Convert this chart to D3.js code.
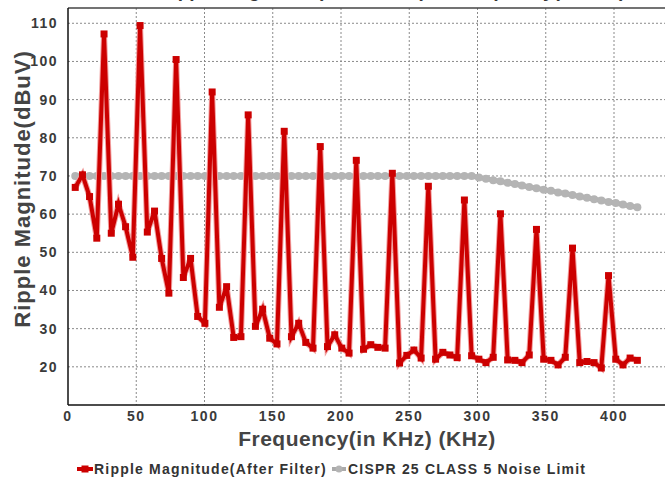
<!DOCTYPE html>
<html>
<head>
<meta charset="utf-8">
<script src="https://cdn.jsdelivr.net/npm/d3@7/dist/d3.min.js"></script>
<style>
  body { margin: 0; background: #fff; }
  svg { display: block; font-family: "Liberation Sans", Arial, sans-serif; }
</style>
</head>
<body>
<div id="chart"></div>
<script>
// frequency of each sample, kHz
const freqs = [
  5.3, 10.6, 15.8, 21.1, 26.4, 31.7, 37.0, 42.2, 47.5, 52.8,
  58.1, 63.4, 68.6, 73.9, 79.2, 84.5, 89.8, 95.0, 100.3, 105.6,
  110.9, 116.2, 121.4, 126.7, 132.0, 137.3, 142.6, 147.8, 153.1, 158.4,
  163.7, 169.0, 174.2, 179.5, 184.8, 190.1, 195.4, 200.6, 205.9, 211.2,
  216.5, 221.8, 227.0, 232.3, 237.6, 242.9, 248.2, 253.4, 258.7, 264.0,
  269.3, 274.6, 279.8, 285.1, 290.4, 295.7, 301.0, 306.2, 311.5, 316.8,
  322.1, 327.4, 332.6, 337.9, 343.2, 348.5, 353.8, 359.0, 364.3, 369.6,
  374.9, 380.2, 385.4, 390.7, 396.0, 401.3, 406.6, 411.8, 417.1
];

// Ripple Magnitude(After Filter), dBuV
const ripple = [
  67.0, 70.3, 64.6, 53.7, 107.2, 55.0, 62.6, 56.7, 48.7, 109.4,
  55.3, 60.8, 48.4, 39.3, 100.5, 43.4, 48.4, 33.2, 31.4, 92.0,
  35.6, 41.0, 27.7, 27.9, 86.0, 30.6, 35.1, 27.5, 26.0, 81.7,
  27.9, 31.4, 26.4, 24.9, 77.7, 25.3, 28.4, 24.9, 23.6, 74.1,
  24.6, 25.8, 25.1, 24.9, 70.7, 21.0, 23.0, 24.4, 22.3, 67.3,
  22.0, 23.8, 23.1, 22.4, 63.7, 22.9, 22.0, 21.1, 22.5, 60.1,
  21.8, 21.7, 21.1, 23.1, 56.0, 22.0, 21.7, 20.5, 22.5, 51.1,
  21.1, 21.4, 21.1, 19.7, 43.9, 22.0, 20.5, 22.3, 21.7
];

// CISPR 25 CLASS 5 Noise Limit, dBuV
const limit = [
  70, 70, 70, 70, 70, 70, 70, 70, 70, 70,
  70, 70, 70, 70, 70, 70, 70, 70, 70, 70,
  70, 70, 70, 70, 70, 70, 70, 70, 70, 70,
  70, 70, 70, 70, 70, 70, 70, 70, 70, 70,
  70, 70, 70, 70, 70, 70, 70, 70, 70, 70,
  70, 70, 70, 70, 70, 70, 69.6, 69.3, 68.9, 68.6,
  68.2, 67.9, 67.5, 67.1, 66.8, 66.4, 66.1, 65.7, 65.4, 65.0,
  64.6, 64.3, 63.9, 63.6, 63.2, 62.9, 62.5, 62.1, 61.8
];

const xTicks = [0, 50, 100, 150, 200, 250, 300, 350, 400];
const yTicks = [20, 30, 40, 50, 60, 70, 80, 90, 100, 110];
const seriesNames = ["Ripple Magnitude(After Filter)", "CISPR 25 CLASS 5 Noise Limit"];

const width = 665, height = 480;
const plotLeft = 68, plotTop = 8, plotBottom = 405;

const x = d3.scaleLinear().domain([0, 400]).range([plotLeft, 614]);
const y = d3.scaleLinear().domain([10, 114]).range([plotBottom, plotTop]);

const svg = d3.select("#chart").append("svg")
  .attr("width", width).attr("height", height);

// title, cut off above the frame as in the source picture
svg.append("text")
  .attr("x", 392).attr("y", -3)
  .attr("text-anchor", "middle")
  .attr("font-size", 19).attr("font-weight", "bold")
  .attr("fill", "#333")
  .text("Ripple Magnitude(After Filter) vs Frequency(in KHz)");

// grid
const grid = svg.append("g")
  .attr("stroke", "#8a8a8a").attr("stroke-width", 1)
  .attr("stroke-dasharray", "2,2");
grid.selectAll(".vg").data(xTicks.slice(1)).join("line")
  .attr("x1", d => x(d)).attr("x2", d => x(d))
  .attr("y1", plotTop).attr("y2", plotBottom);
grid.selectAll(".hg").data(yTicks).join("line")
  .attr("x1", plotLeft).attr("x2", width)
  .attr("y1", d => y(d)).attr("y2", d => y(d));

// frame
svg.append("line").attr("x1", plotLeft).attr("x2", width)
  .attr("y1", plotTop).attr("y2", plotTop)
  .attr("stroke", "#444").attr("stroke-width", 1.5);
svg.append("line").attr("x1", plotLeft).attr("x2", plotLeft)
  .attr("y1", plotTop).attr("y2", plotBottom)
  .attr("stroke", "#111").attr("stroke-width", 1.5);
svg.append("line").attr("x1", plotLeft).attr("x2", width)
  .attr("y1", plotBottom).attr("y2", plotBottom)
  .attr("stroke", "#111").attr("stroke-width", 1.5);

// tick labels
svg.append("g").selectAll("text").data(xTicks).join("text")
  .attr("x", d => x(d)).attr("y", 421)
  .attr("text-anchor", "middle")
  .attr("font-size", 14).attr("font-weight", "bold").attr("fill", "#3a3a3a")
  .attr("letter-spacing", 1.5)
  .text(d => d);
svg.append("g").selectAll("text").data(yTicks).join("text")
  .attr("x", 58).attr("y", d => y(d)).attr("dy", "0.35em")
  .attr("text-anchor", "end")
  .attr("font-size", 14).attr("font-weight", "bold").attr("fill", "#3a3a3a")
  .attr("letter-spacing", 1.5)
  .text(d => d);

// axis titles
svg.append("text")
  .attr("x", 367).attr("y", 446)
  .attr("text-anchor", "middle")
  .attr("font-size", 21).attr("font-weight", "bold").attr("fill", "#444")
  .attr("letter-spacing", 0.5)
  .text("Frequency(in KHz) (KHz)");
svg.append("text")
  .attr("transform", "translate(30,189) rotate(-90)")
  .attr("text-anchor", "middle")
  .attr("font-size", 22).attr("font-weight", "bold").attr("fill", "#444")
  .attr("letter-spacing", 1)
  .text("Ripple Magnitude(dBuV)");

const line = d3.line().x(d => x(d[0])).y(d => y(d[1]));
const limitPts = d3.zip(freqs, limit);
const ripplePts = d3.zip(freqs, ripple);

// limit series
svg.append("path").datum(limitPts)
  .attr("d", line).attr("fill", "none")
  .attr("stroke", "#aaaaaa").attr("stroke-width", 5)
  .attr("stroke-linejoin", "round");
svg.append("g").selectAll("circle").data(limitPts).join("circle")
  .attr("cx", d => x(d[0])).attr("cy", d => y(d[1])).attr("r", 4)
  .attr("fill", "#b4b4b4");

// ripple series
svg.append("path").datum(ripplePts)
  .attr("d", line).attr("fill", "none")
  .attr("stroke", "#f2a0a0").attr("stroke-width", 6)
  .attr("stroke-linejoin", "miter");
svg.append("path").datum(ripplePts)
  .attr("d", line).attr("fill", "none")
  .attr("stroke", "#cc0000").attr("stroke-width", 4)
  .attr("stroke-linejoin", "miter");
svg.append("g").selectAll("rect").data(ripplePts).join("rect")
  .attr("x", d => x(d[0]) - 3.5).attr("y", d => y(d[1]) - 3.5)
  .attr("width", 7).attr("height", 7)
  .attr("fill", "#cc0000");

// legend
const lg = svg.append("g").attr("font-size", 14).attr("font-weight", "bold")
  .attr("fill", "#333").attr("letter-spacing", 1.2);
lg.append("line").attr("x1", 77).attr("x2", 93).attr("y1", 469).attr("y2", 469)
  .attr("stroke", "#cc0000").attr("stroke-width", 4);
lg.append("rect").attr("x", 81.5).attr("y", 465.5).attr("width", 7).attr("height", 7).attr("fill", "#cc0000");
lg.append("text").attr("x", 94).attr("y", 469).attr("dy", "0.35em").text(seriesNames[0]);
lg.append("line").attr("x1", 332).attr("x2", 346).attr("y1", 469).attr("y2", 469)
  .attr("stroke", "#aaaaaa").attr("stroke-width", 4);
lg.append("circle").attr("cx", 339).attr("cy", 469).attr("r", 3.5).attr("fill", "#b4b4b4");
lg.append("text").attr("x", 348).attr("y", 469).attr("dy", "0.35em").text(seriesNames[1]);
</script>
</body>
</html>
